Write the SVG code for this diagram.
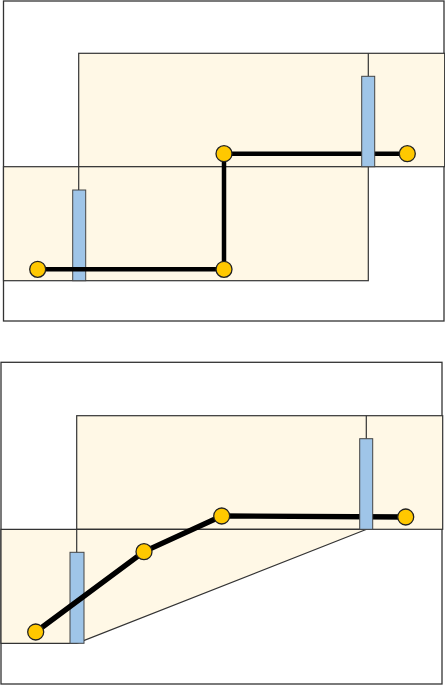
<svg xmlns="http://www.w3.org/2000/svg" width="445" height="685" viewBox="0 0 445 685">
<style>
.frame{fill:#fff;stroke:#333;stroke-width:1.3}
.zone{fill:#fff8e6;stroke:#333;stroke-width:1.2}
.thin{stroke:#333;stroke-width:1.2;fill:none}
.bar{fill:#9fc5e8;stroke:#444;stroke-width:1}
.wire{fill:none;stroke:#000;stroke-width:4.5;stroke-linejoin:round}
.pt{fill:#ffc800;stroke:#222;stroke-width:1.3}
</style>
<g id="panel1">
<rect class="frame" x="3.5" y="1" width="440.5" height="320"/>
<rect class="zone" x="78.7" y="53.3" width="366" height="113.4"/>
<rect class="zone" x="3.5" y="166.7" width="364.8" height="114"/>
<rect id="bar1a" class="bar" x="72.7" y="190" width="13" height="90.7"/>
<g id="connectors1">
<line class="thin" x1="78.7" y1="166.7" x2="78.7" y2="190"/>
<line class="thin" x1="368.3" y1="53.3" x2="368.3" y2="76.3"/>
<polyline class="wire" points="37.7,269.3 224,269.3 224,153.7 407.3,153.7"/>
</g>
<rect id="bar1b" class="bar" x="361.7" y="76.3" width="13" height="90.4"/>
<circle id="p1a" class="pt" cx="37.7" cy="269.3" r="8"/>
<circle id="p1b" class="pt" cx="224" cy="269.3" r="8"/>
<circle id="p1c" class="pt" cx="224" cy="153.7" r="8"/>
<circle id="p1d" class="pt" cx="407.3" cy="153.7" r="8"/>
</g>
<g id="panel2">
<rect class="frame" x="1" y="362.3" width="441" height="321.7"/>
<rect class="zone" x="76.7" y="415.7" width="366" height="113.6"/>
<polygon class="zone" points="1,529.3 366.7,529.3 76.7,643.3 1,643.3"/>
<rect id="bar2a" class="bar" x="70" y="552.3" width="14" height="91"/>
<g id="connectors2">
<line class="thin" x1="76.7" y1="529.3" x2="76.7" y2="552.3"/>
<line class="thin" x1="366.3" y1="415.7" x2="366.3" y2="438.7"/>
<polyline class="wire" style="stroke-width:5.3" points="35.7,632 144,551.7 221.7,516 405.7,517"/>
</g>
<rect id="bar2b" class="bar" x="359.7" y="438.7" width="13" height="90.6"/>
<circle id="p2a" class="pt" cx="35.7" cy="632" r="8"/>
<circle id="p2b" class="pt" cx="144" cy="551.7" r="8"/>
<circle id="p2c" class="pt" cx="221.7" cy="516" r="8"/>
<circle id="p2d" class="pt" cx="405.7" cy="517" r="8"/>
</g>
</svg>
